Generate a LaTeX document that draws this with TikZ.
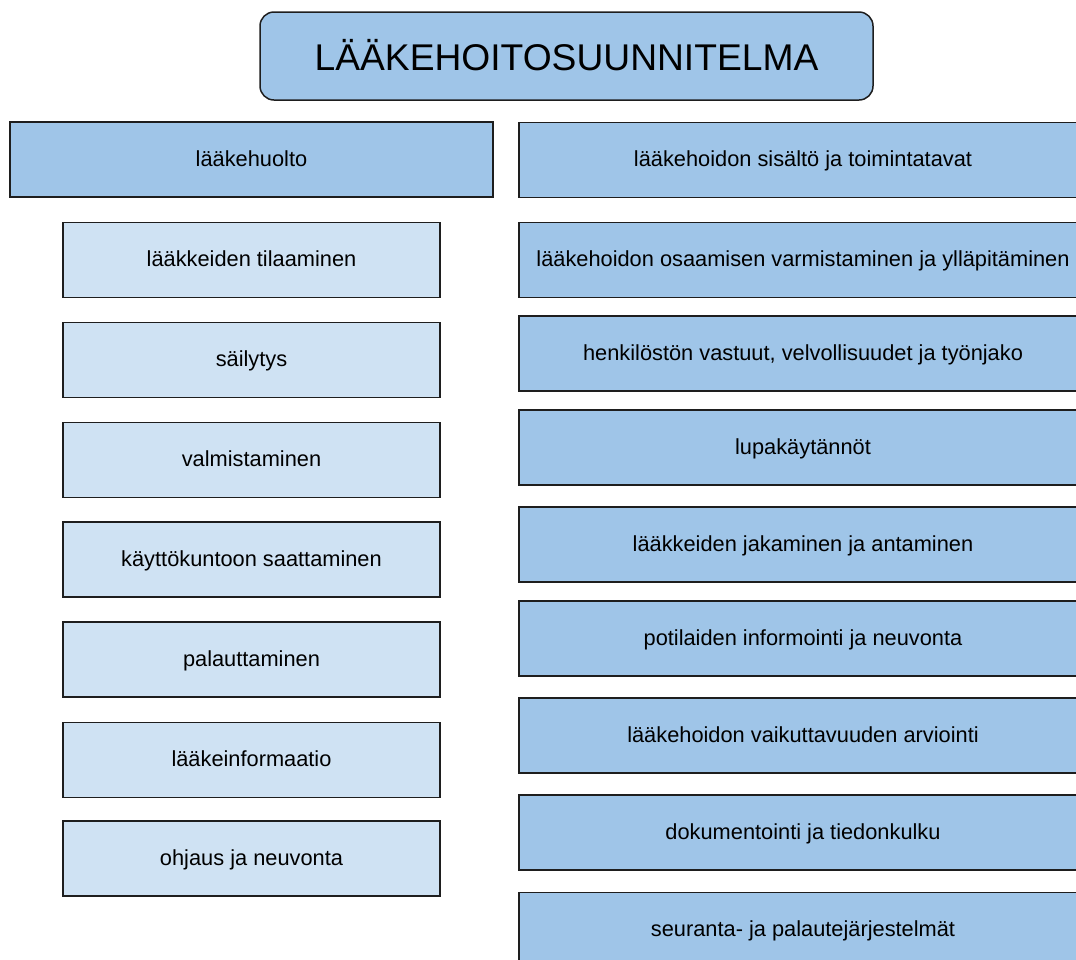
\documentclass[tikz,border=0pt]{standalone}
\usepackage{fontspec}
\setmainfont{Liberation Sans}
\usetikzlibrary{positioning}
\definecolor{boxDark}{RGB}{159,197,232}
\definecolor{boxLight}{RGB}{207,226,243}
\definecolor{edgeColor}{RGB}{30,30,30}
\tikzstyle{planSheet} = [x = 1pt, y = -1pt]
\tikzstyle{boxStyle} = [draw=edgeColor, line width=1.5pt, inner sep=0pt, text=black, text depth=2pt, font=\fontsize{21.8}{26}\selectfont]
\tikzstyle{titleBox} = [boxStyle, fill=boxDark, rounded corners=14pt, minimum width=613pt, minimum height=88pt, font=\fontsize{37.2}{44}\selectfont]
\tikzstyle{mainBox} = [boxStyle, fill=boxDark, minimum width=483pt, minimum height=75pt]
\tikzstyle{subBox} = [boxStyle, fill=boxLight, minimum width=377pt, minimum height=75pt]
\tikzstyle{rightBox} = [boxStyle, fill=boxDark, minimum width=568pt, minimum height=75pt]

\begin{document}
\begin{tikzpicture}[planSheet]
       \useasboundingbox (0,0) rectangle (1076,959);
       \clip (0,0) rectangle (1076,959);

       \node [titleBox] (plan) at (566.5,56) {LÄÄKEHOITOSUUNNITELMA};

       % left column
       \node [mainBox] (supply) at (251.5,159.5) {lääkehuolto};
       \foreach \yPos/\itemText [count=\i] in {260/{lääkkeiden tilaaminen}, 360/{säilytys},
           460/{valmistaminen}, 559.5/{käyttökuntoon saattaminen}, 659.5/{palauttaminen},
           760/{lääkeinformaatio}, 858.5/{ohjaus ja neuvonta}} {
         \node [subBox] (supply\i) at (251.5,\yPos) {\itemText};
       }

       % right column
       \foreach \yPos/\itemText [count=\i] in {160/{lääkehoidon sisältö ja toimintatavat},
           260/{lääkehoidon osaamisen varmistaminen ja ylläpitäminen},
           353.5/{henkilöstön vastuut, velvollisuudet ja työnjako},
           447.5/{lupakäytännöt}, 544.5/{lääkkeiden jakaminen ja antaminen},
           638.5/{potilaiden informointi ja neuvonta},
           735.5/{lääkehoidon vaikuttavuuden arviointi},
           832.5/{dokumentointi ja tiedonkulku},
           930/{seuranta- ja palautejärjestelmät}} {
         \node [rightBox] (care\i) at (803,\yPos) {\itemText};
       }
     \end{tikzpicture}
\end{document}
